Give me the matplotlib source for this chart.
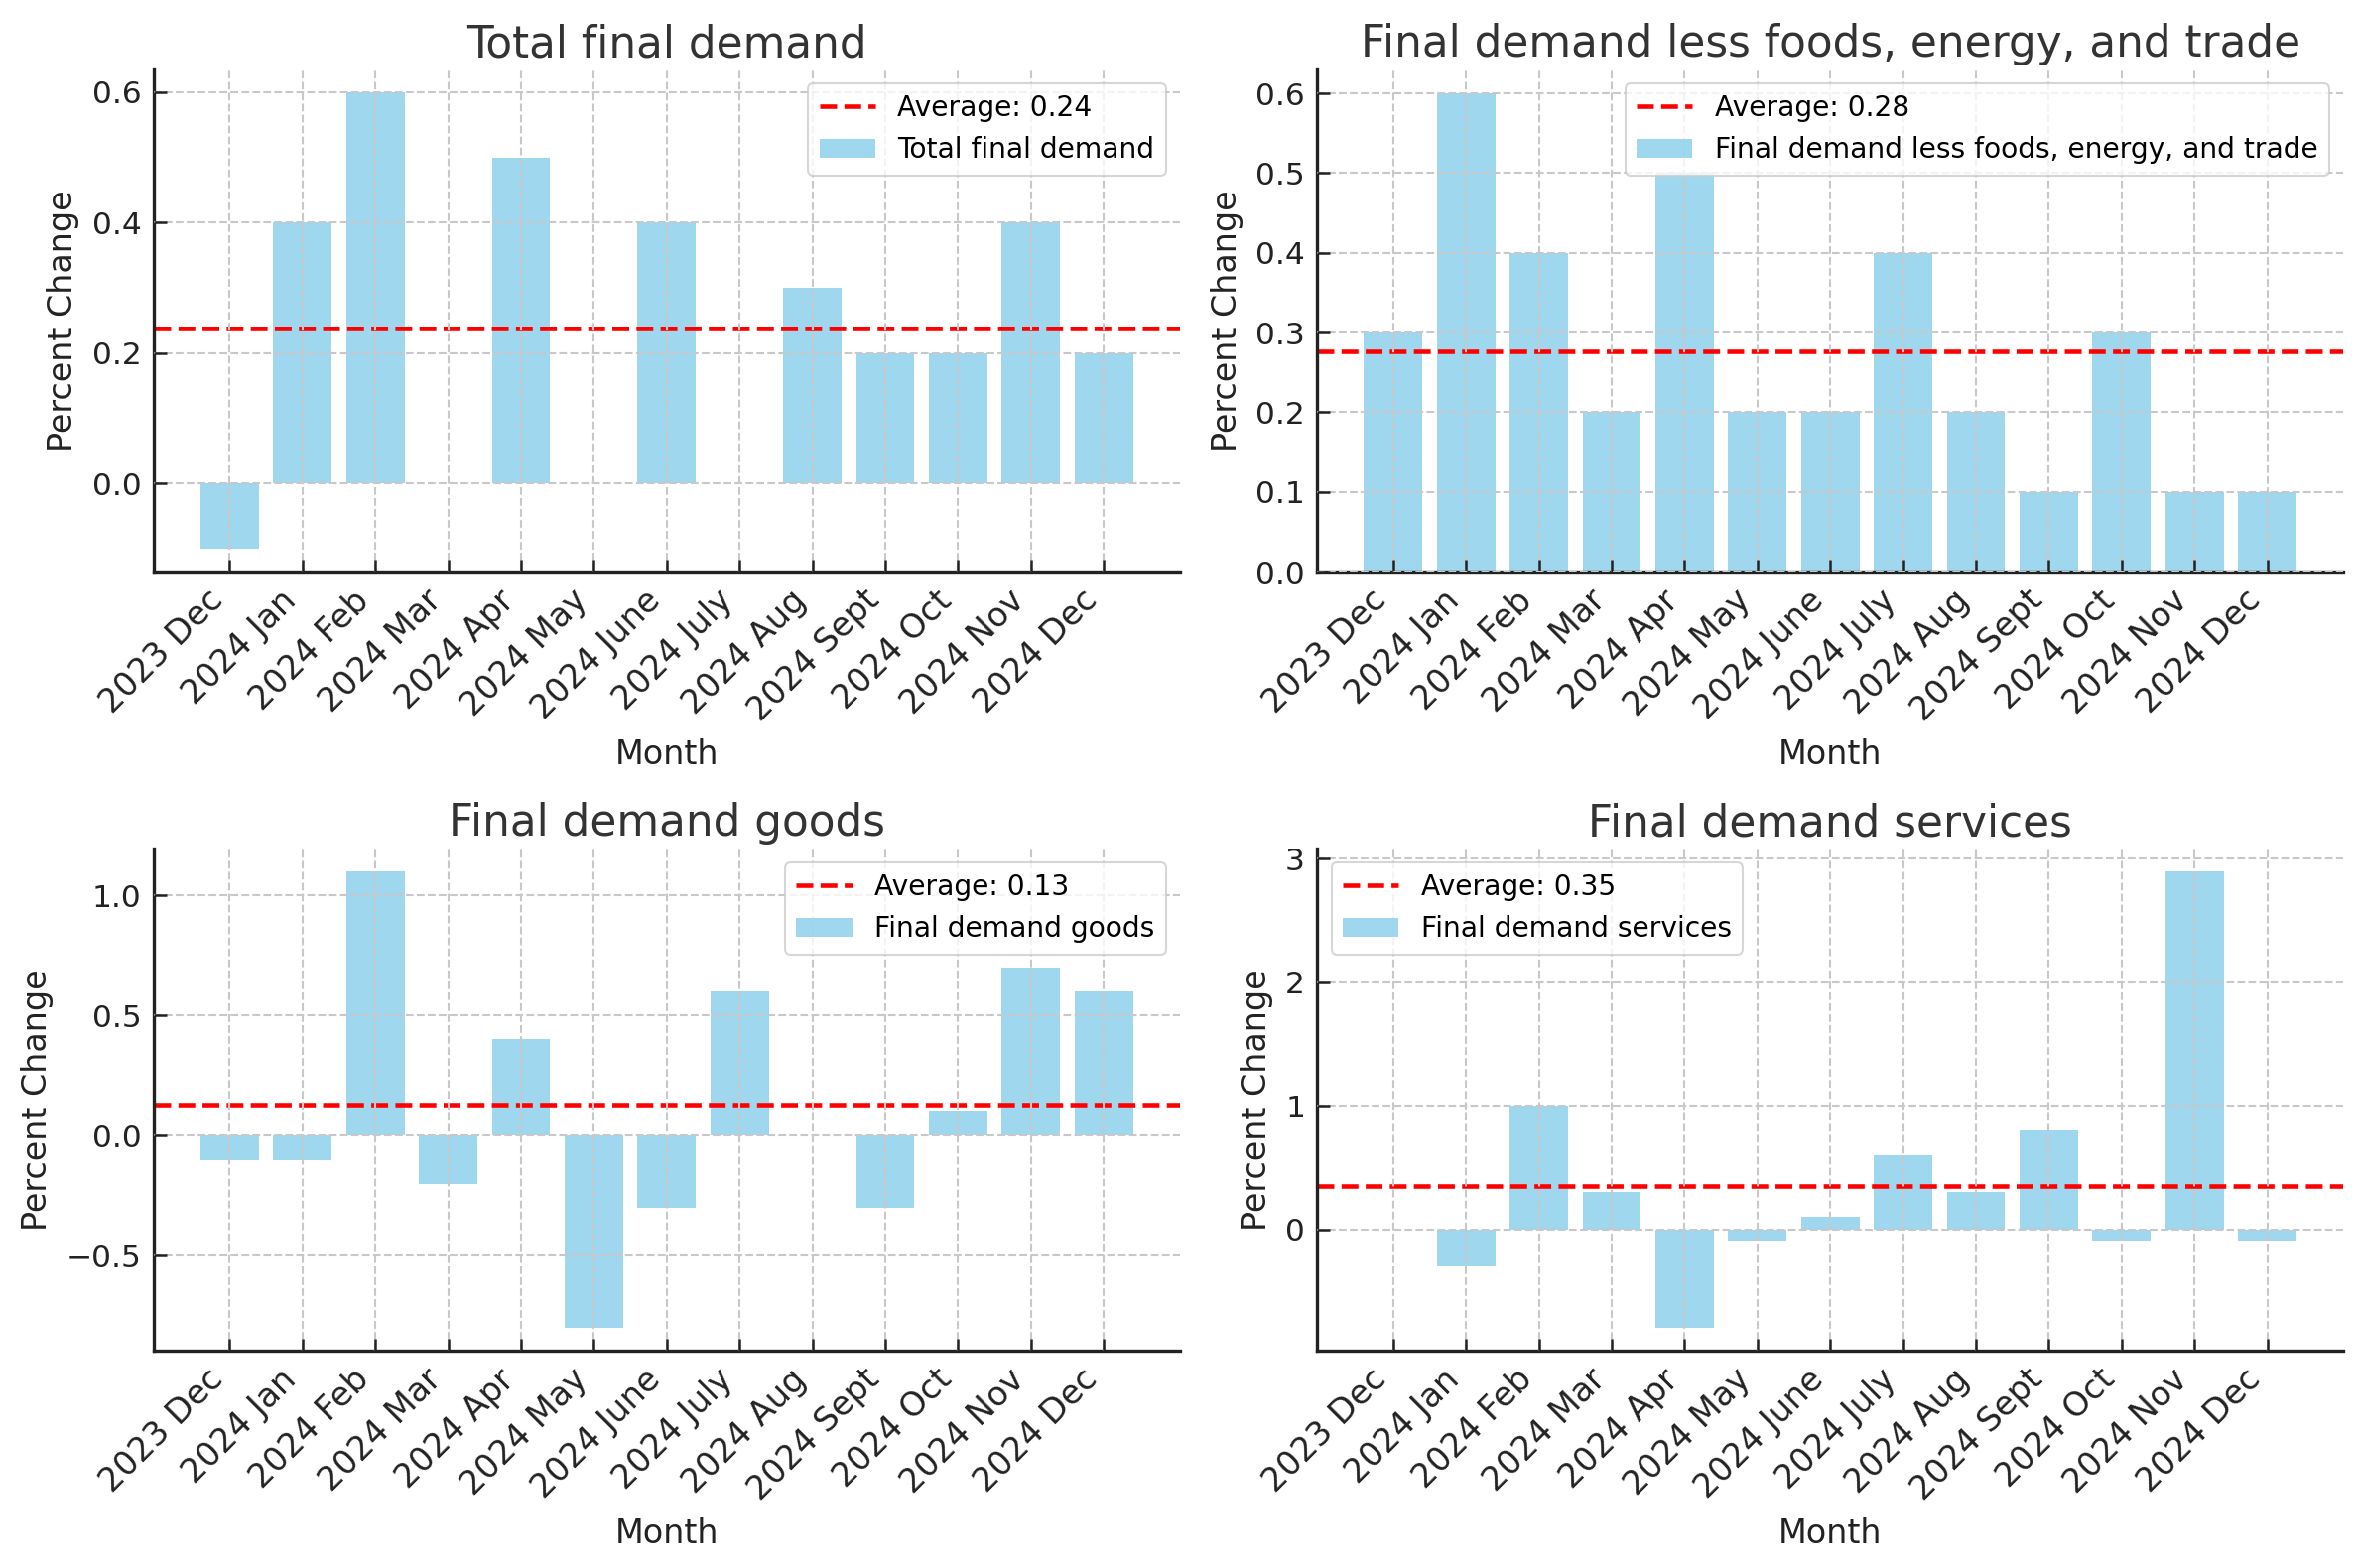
import matplotlib
matplotlib.use("Agg")
import matplotlib.pyplot as plt
from matplotlib.ticker import MultipleLocator
import numpy as np

# months and the four PPI series (percent change)
months = ['2023 Dec', '2024 Jan', '2024 Feb', '2024 Mar', '2024 Apr', '2024 May',
          '2024 June', '2024 July', '2024 Aug', '2024 Sept', '2024 Oct', '2024 Nov', '2024 Dec']

total_final = [-0.1, 0.4, 0.6, 0.0, 0.5, 0.0, 0.4, 0.0, 0.3, 0.2, 0.2, 0.4, 0.2]
less_fet = [0.3, 0.6, 0.4, 0.2, 0.5, 0.2, 0.2, 0.4, 0.2, 0.1, 0.3, 0.1, 0.1]
goods = [-0.1, -0.1, 1.1, -0.2, 0.4, -0.8, -0.3, 0.6, 0.0, -0.3, 0.1, 0.7, 0.6]
services = [0.0, -0.3, 1.0, 0.3, -0.8, -0.1, 0.1, 0.6, 0.3, 0.8, -0.1, 2.9, -0.1]

titles = ['Total final demand', 'Final demand less foods, energy, and trade',
          'Final demand goods', 'Final demand services']
series = [total_final, less_fet, goods, services]
legend_locs = ['upper right', 'upper right', 'upper right', 'upper left']
ytick_steps = [0.2, 0.1, 0.5, 1]

plt.rcParams['font.family'] = 'DejaVu Sans'

fig, axes = plt.subplots(2, 2, figsize=(2379 / 150, 1580 / 150), dpi=150)
x = np.arange(len(months))

for ax, title, vals, loc, step in zip(axes.flat, titles, series, legend_locs, ytick_steps):
    avg = np.mean(vals)
    ax.bar(x, vals, color='skyblue', alpha=0.8, label=title)
    ax.axhline(avg, color='red', linestyle='--', linewidth=2.2, label=f'Average: {avg:.2f}')
    ax.set_title(title, fontsize=21, color='#333333')
    ax.set_xlabel('Month', fontsize=16, color='#222222', labelpad=5)
    ax.set_ylabel('Percent Change', fontsize=16, color='#222222', labelpad=6)
    ax.set_xticks(x)
    ax.set_xticklabels(months, rotation=45, ha='right', fontsize=16)
    ax.yaxis.set_major_locator(MultipleLocator(step))
    ax.tick_params(axis='y', labelsize=15)
    ax.tick_params(direction='in', length=6, width=1.2, pad=6, colors='#222222')
    ax.grid(True, linestyle='--', color='#c8c8c8', linewidth=1)
    ax.set_axisbelow(False)
    for s in ['top', 'right']:
        ax.spines[s].set_visible(False)
    for s in ['left', 'bottom']:
        ax.spines[s].set_linewidth(1.6)
        ax.spines[s].set_color('#222222')
    ax.legend(loc=loc, fontsize=13.5)

plt.subplots_adjust(left=0.0652, right=0.9924, bottom=0.1386, top=0.9557,
                    wspace=0.1344, hspace=0.551)
plt.savefig('out.png', dpi=150)
